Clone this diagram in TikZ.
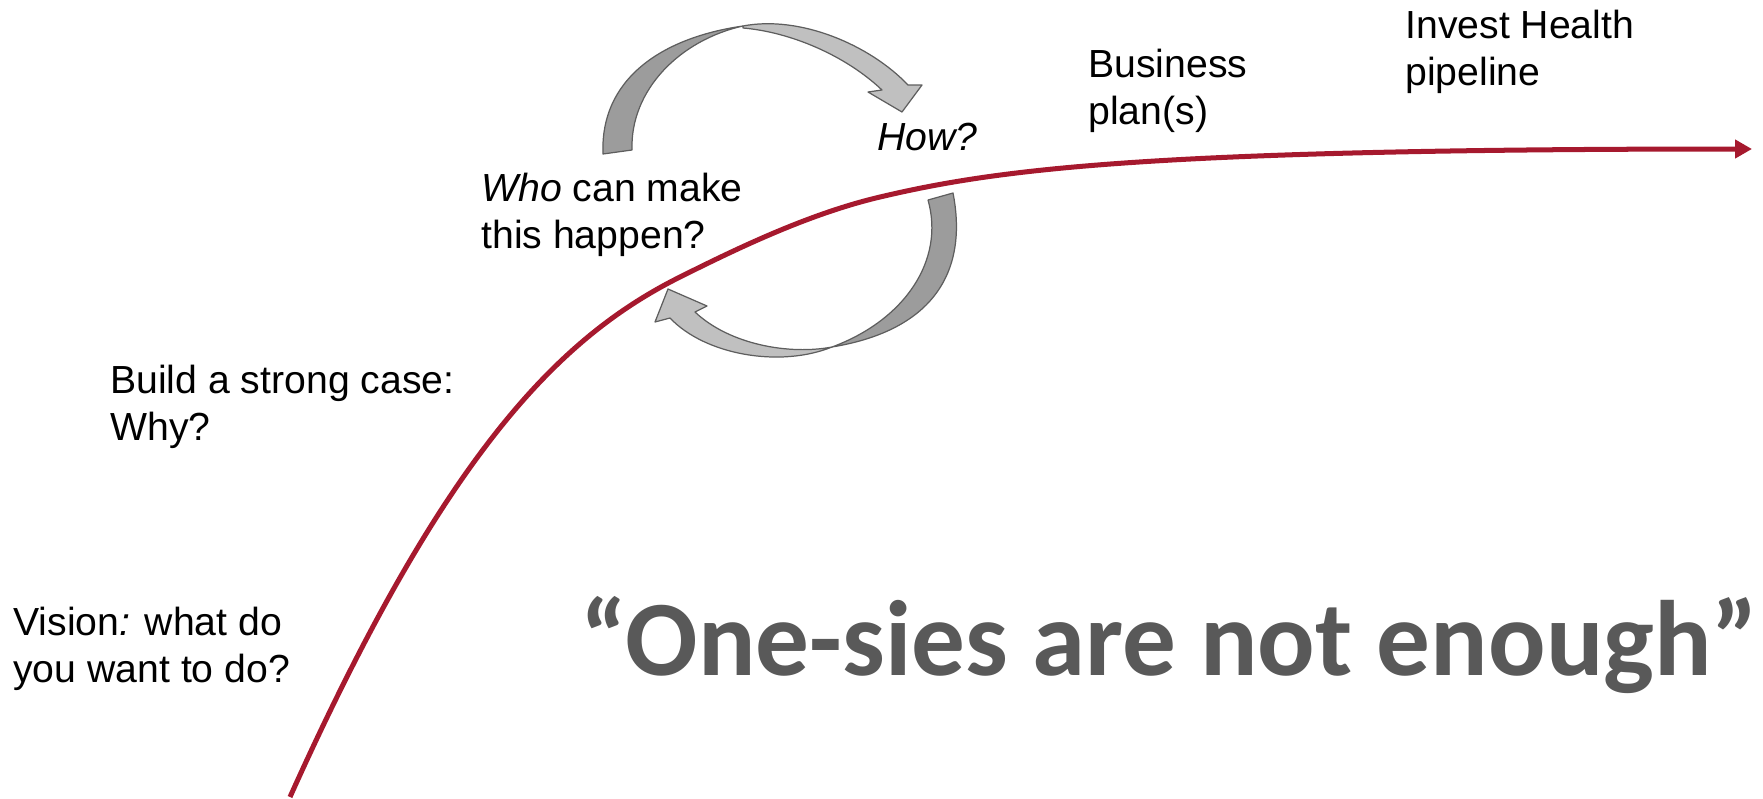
\documentclass[tikz,border=0pt]{standalone}
\usepackage{fontspec}
\setmainfont{Liberation Sans}
\newfontfamily\calibrifont{Carlito}
\usetikzlibrary{arrows.meta}
\definecolor{curvered}{HTML}{A6192E}
\definecolor{backgray}{HTML}{9C9C9C}
\definecolor{frontgray}{HTML}{C0C0C0}
\definecolor{edgegray}{HTML}{5E5E5E}
\definecolor{quotegray}{HTML}{595959}

\begin{document}
\begin{tikzpicture}[x=0.02cm,y=-0.02cm,>={Triangle[length=0.34cm,width=0.36cm]},
  caption text/.style={anchor=base west,inner sep=0pt,align=left,font=\fontsize{22.3}{26.7}\selectfont},
  back band/.style={fill=backgray,draw=edgegray,line width=0.7pt,line join=round},
  front band/.style={fill=frontgray,draw=edgegray,line width=0.7pt,line join=round}]

  \useasboundingbox (0,0) rectangle (1763,798);

  \node[caption text] (vision) at (13,682) {Vision\textit{:} what do\\you want to do?};
  \node[caption text] (case)   at (110,440) {Build a strong case:\\Why?};
  \node[caption text] (who)    at (481,248) {\textit{Who} can make\\this happen?};
  \node[caption text] (how)    at (877,150) {\textit{How?}};
  \node[caption text] (plan)   at (1088,124) {Business\\plan(s)};
  \node[caption text] (invest) at (1405,85) {Invest Health\\pipeline};
  \node[anchor=base west,inner sep=0pt,text=quotegray,
        font=\calibrifont\bfseries\fontsize{61}{73}\selectfont] (quote) at (580,675)
        {“One-sies are not enough”};

  \coordinate (start) at (290,797);
  \coordinate (bend1) at (680,277);
  \coordinate (bend2) at (880,197);
  \coordinate (finish) at (1752,149);
  \draw[->,curvered,line width=2.85pt] (start)
    .. controls (445,452) and (560,337) .. (bend1)
    .. controls (740,247) and (810,213.5) .. (bend2)
    .. controls (1000,168.7) and (1150,149) .. (finish);

  % who -> how
  \path[back band] (603,154) .. controls (600,80) and (660,38) .. (743,26)
    .. controls (680,40) and (630,90) .. (632,150) -- cycle;
  \path[front band] (743,26) .. controls (800,15) and (870,45) .. (908,85)
    -- (922,85) -- (902,112) -- (868,92) -- (882,90)
    .. controls (845,55) and (790,32) .. (743,28) -- cycle;

  % how -> who
  \path[back band] (953,193) .. controls (968,270) and (935,330) .. (832,347)
    .. controls (905,320) and (945,260) .. (928,200) -- cycle;
  \path[front band] (832,347) .. controls (780,368) and (705,355) .. (670,318)
    -- (655,322) -- (668,289) -- (707,306) -- (695,312)
    .. controls (730,345) and (790,355) .. (832,347) -- cycle;
\end{tikzpicture}
\end{document}
